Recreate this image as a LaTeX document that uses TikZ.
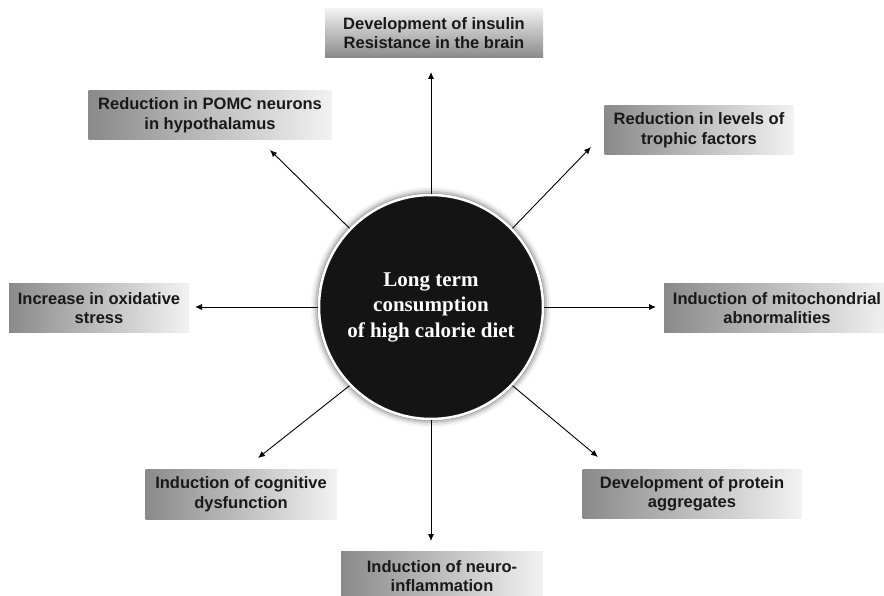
\documentclass[tikz,border=0pt]{standalone}
\usepackage{fontspec}
\setmainfont{Liberation Sans}
\newfontfamily\hubfont{Liberation Serif}
\usetikzlibrary{arrows.meta}
\definecolor{boxdark}{HTML}{8A8A8A}
\definecolor{boxlight}{HTML}{F2F2F2}
\definecolor{hubfill}{HTML}{141414}
\tikzset{
  effectbox/.style={rectangle, inner sep=0pt, align=center,
    font=\bfseries\fontsize{16.5}{19.5}\selectfont, text=black!90,
    left color=boxdark, right color=boxlight},
  vbox/.style={rectangle, inner sep=0pt, align=center,
    font=\bfseries\fontsize{16.5}{19.5}\selectfont, text=black!90,
    top color=boxlight, bottom color=boxdark},
  arr/.style={-{Latex[length=7pt,width=6pt]}, line width=0.9pt, black}
}
\begin{document}
\begin{tikzpicture}[x=1pt,y=-1pt]
\useasboundingbox (0,0) rectangle (884,596);
\fill[white] (0,0) rectangle (884,596);

% central hub with soft halo and white rim
\foreach \r/\o in {120/0.04,118/0.07,116/0.12,114/0.2}
  \fill[black,opacity=\o] (431,307) circle (\r);
\node[circle, minimum size=224pt, inner sep=0pt, fill=hubfill,
      draw=white, line width=2.5pt, text=white, align=center,
      font=\hubfont\bfseries\fontsize{21}{25.5}\selectfont] (hub) at (431,307)
  {Long term\\consumption\\of high calorie diet};

% surrounding effects
\node[vbox, minimum width=218pt, minimum height=49pt] (insulin) at (434,33)
  {Development of insulin\\Resistance in the brain};
\node[effectbox, minimum width=243pt, minimum height=49pt] (pomc) at (210,115)
  {Reduction in POMC neurons\\in hypothalamus};
\node[effectbox, minimum width=189pt, minimum height=49pt] (trophic) at (699,130)
  {Reduction in levels of\\trophic factors};
\node[effectbox, minimum width=180pt, minimum height=49pt] (oxid) at (99,308)
  {Increase in oxidative\\stress};
\node[effectbox, minimum width=226pt, minimum height=49pt] (mito) at (777,308)
  {Induction of mitochondrial\\abnormalities};
\node[effectbox, minimum width=191pt, minimum height=50pt] (cogn) at (241,494)
  {Induction of cognitive\\dysfunction};
\node[effectbox, minimum width=219pt, minimum height=49pt] (protein) at (692,494)
  {Development of protein\\aggregates};
\node[effectbox, minimum width=202pt, minimum height=50pt] (neuro) at (442,576)
  {Induction of neuro-\\inflammation};

% arrow tips
\coordinate (tInsulin) at (431,72);
\coordinate (tPomc) at (270,150);
\coordinate (tTrophic) at (591,147);
\coordinate (tOxid) at (195,307);
\coordinate (tMito) at (656,307);
\coordinate (tCogn) at (258,458);
\coordinate (tProtein) at (598,457);
\coordinate (tNeuro) at (431,541);

\draw[arr] (hub.90) -- (tInsulin);
\draw[arr] (hub.136) -- (tPomc);
\draw[arr] (hub.44) -- (tTrophic);
\draw[arr] (hub.180) -- (tOxid);
\draw[arr] (hub.0) -- (tMito);
\draw[arr] (hub.224) -- (tCogn);
\draw[arr] (hub.316) -- (tProtein);
\draw[arr] (hub.270) -- (tNeuro);
\end{tikzpicture}
\end{document}
